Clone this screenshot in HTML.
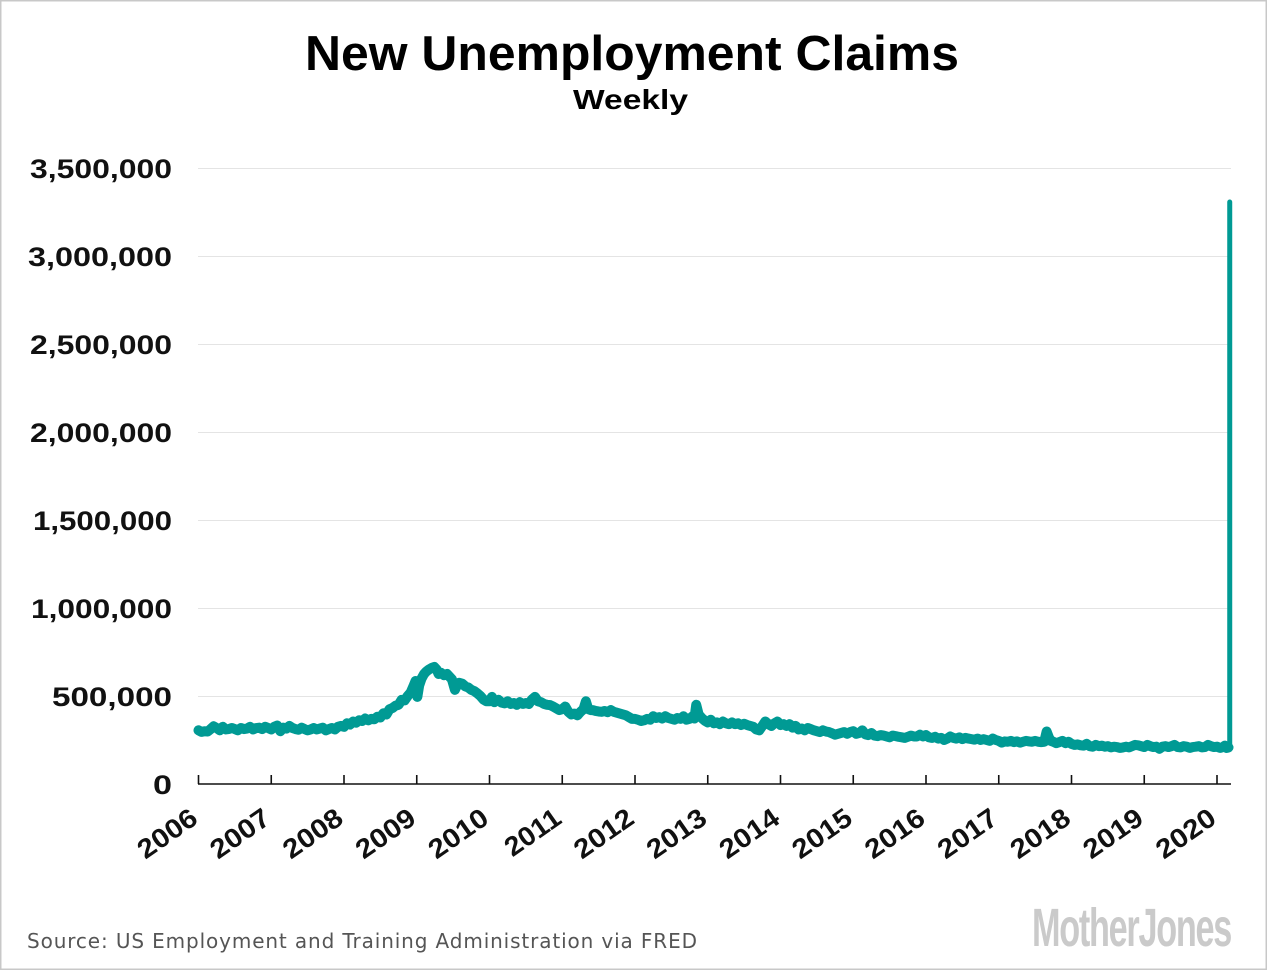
<!DOCTYPE html>
<html>
<head>
<meta charset="utf-8">
<style>
  html, body { margin: 0; padding: 0; background: #ffffff; }
  svg { display: block; }
  .yl { font-family: "Liberation Sans", "DejaVu Sans", sans-serif; font-weight: bold; font-size: 27px; fill: #111; }
  .xl { font-family: "Liberation Sans", "DejaVu Sans", sans-serif; font-weight: bold; font-size: 27px; fill: #111; }
</style>
</head>
<body>
<svg width="1268" height="971" viewBox="0 0 1268 971" xmlns="http://www.w3.org/2000/svg">
  <rect x="0" y="0" width="1268" height="971" fill="#ffffff"/>
  <rect x="0.75" y="0.75" width="1265.5" height="968.5" fill="none" stroke="#c8c8c8" stroke-width="1.5"/>

  <!-- Titles -->
  <text x="305" y="70" font-family="'Liberation Sans', sans-serif" font-weight="bold" font-size="49" fill="#000" textLength="654" lengthAdjust="spacingAndGlyphs">New Unemployment Claims</text>
  <text x="573" y="109" font-family="'Liberation Sans', sans-serif" font-weight="bold" font-size="28" fill="#000" textLength="115" lengthAdjust="spacingAndGlyphs">Weekly</text>

  <!-- Gridlines -->
  <g stroke="#e4e4e4" stroke-width="1">
    <line x1="198" y1="168.5" x2="1231" y2="168.5"/>
    <line x1="198" y1="256.5" x2="1231" y2="256.5"/>
    <line x1="198" y1="344.5" x2="1231" y2="344.5"/>
    <line x1="198" y1="432.5" x2="1231" y2="432.5"/>
    <line x1="198" y1="520.5" x2="1231" y2="520.5"/>
    <line x1="198" y1="608.5" x2="1231" y2="608.5"/>
    <line x1="198" y1="696.5" x2="1231" y2="696.5"/>
  </g>

  <!-- Y labels -->
  <g class="yl" text-anchor="end">
    <text x="172" y="178" textLength="142" lengthAdjust="spacingAndGlyphs">3,500,000</text>
    <text x="172" y="266" textLength="144" lengthAdjust="spacingAndGlyphs">3,000,000</text>
    <text x="172" y="354" textLength="142" lengthAdjust="spacingAndGlyphs">2,500,000</text>
    <text x="172" y="442" textLength="142" lengthAdjust="spacingAndGlyphs">2,000,000</text>
    <text x="172" y="530" textLength="139" lengthAdjust="spacingAndGlyphs">1,500,000</text>
    <text x="172" y="618" textLength="141" lengthAdjust="spacingAndGlyphs">1,000,000</text>
    <text x="172" y="706" textLength="120" lengthAdjust="spacingAndGlyphs">500,000</text>
    <text x="172" y="794" textLength="19" lengthAdjust="spacingAndGlyphs">0</text>
  </g>

  <!-- Data line -->
  <g transform="translate(198.5,784) scale(6.0625,-0.176)">
    <polyline fill="none" stroke="#009a94" stroke-width="10" stroke-linejoin="round" stroke-linecap="round" vector-effect="non-scaling-stroke"
      points="0,305 0.5,296 1,300 1.5,298 2,312 2.5,328 3,318 3.5,305 4,325 4.5,310 5,312 5.5,318 6,312 6.5,305 7,318 7.5,312 8,315 8.5,325 9,310 9.5,318 10,320 10.5,312 11,325 11.5,318
12,310 12.5,325 13,332 13.5,300 14,320 14.5,315 15,330 15.5,318 16,312 16.5,308 17,320 17.5,312 18,305 18.5,310 19,318 19.5,310 20,315 20.5,320 21,305 21.5,312 22,318 22.5,310 23,325 23.5,330
24,325 24.5,345 25,338 25.5,355 26,348 26.5,362 27,358 27.5,372 28,362 28.5,370 29,368 29.5,382 30,378 30.5,402 31,395 31.5,425 32,432 32.5,445 33,450 33.5,478 34,475 34.5,500 35,520 35.5,560 35.8,585 36.1,495 36.4,560 36.8,600 37.2,625 37.6,640 38,650 38.5,660 38.9,665 39.3,650 39.6,625 40,632 40.5,618 41,625 41.4,610 41.8,595 42.3,535 42.7,565 43,575 43.5,570 44,555 44.5,548 45,535 45.5,528 46,515 46.5,500 47,480 47.5,470
48,470 48.4,495 48.8,465 49,470 49.5,478 50,462 50.5,458 51,470 51.5,455 52,460 52.5,450 53,465 53.5,455 54,460 54.5,455 55,480 55.5,495 56,470 56.5,465 57,455 57.5,450 58,448 58.5,440 59,430 59.5,420
60,425 60.5,440 61,410 61.5,395 62,400 62.5,390 63,410 63.5,425 63.9,470 64.3,425 64.7,420 65,420 65.5,415 66,412 66.5,410 67,415 67.5,408 68,420 68.5,410 69,405 69.5,400 70,395 70.5,390 71,380 71.5,370
72,370 72.5,365 73,358 73.5,362 74,370 74.5,365 75,385 75.5,375 76,380 76.5,372 77,385 77.5,375 78,370 78.5,365 79,375 79.5,370 80,385 80.5,365 81,370 81.5,385 81.8,372 82.1,450 82.5,395 83,375 83.5,360
84,350 84.5,365 85,345 85.5,350 86,340 86.5,355 87,345 87.5,340 88,350 88.5,340 89,345 89.5,335 90,342 90.5,335 91,330 91.5,325 92,310 92.5,305 93,330 93.5,355 94,340 94.5,330 95,345 95.5,355
96,335 96.5,340 97,330 97.5,340 98,320 98.5,330 99,310 99.5,315 100,305 100.5,318 101,312 101.5,305 102,300 102.5,295 103,305 103.5,298 104,295 104.5,288 105,280 105.5,285 106,290 106.5,295 107,285 107.5,295
108,300 108.5,285 109,290 109.5,305 110,282 110.5,278 111,290 111.5,275 112,272 112.5,278 113,275 113.5,270 114,265 114.5,275 115,272 115.5,268 116,265 116.5,262 117,268 117.5,275 118,270 118.5,270 119,280 119.5,270
120,278 120.5,265 121,262 121.5,268 122,258 122.5,262 123,250 123.5,258 124,270 124.5,262 125,258 125.5,265 126,255 126.5,262 127,258 127.5,255 128,252 128.5,258 129,250 129.5,255 130,250 130.5,245 131,258 131.5,250
132,245 132.5,235 133,242 133.5,240 134,245 134.5,238 135,242 135.5,235 136,240 136.5,245 137,242 137.5,240 138,245 138.5,240 139,238 139.5,240 139.9,298 140.3,262 140.6,245 141,240 141.5,232 142,238 142.5,245 143,232 143.5,240
144,228 144.5,222 145,225 145.5,220 146,218 146.5,228 147,215 147.5,212 148,222 148.5,215 149,218 149.5,212 150,215 150.5,208 151,212 151.5,210 152,205 152.5,208 153,212 153.5,208 154,215 154.5,222 155,220 155.5,215
156,210 156.5,222 157,215 157.5,210 158,212 158.5,200 159,212 159.5,215 160,210 160.5,215 161,222 161.5,210 162,208 162.5,215 163,212 163.5,205 164,210 164.5,212 165,215 165.5,208 166,210 166.5,222 167,215 167.5,210
168,212 168.5,205 169,210 169.3,218 169.6,205 169.9,208"/>
    <polyline fill="none" stroke="#009a94" stroke-width="5" stroke-linejoin="round" stroke-linecap="round" vector-effect="non-scaling-stroke"
      points="169.8,208 170.1,215 170.1,3307"/>
  </g>

  <!-- X axis -->
  <g stroke="#111" stroke-width="1.6">
    <line x1="198" y1="784" x2="1231" y2="784"/>
    <line x1="198.5" y1="775" x2="198.5" y2="784"/>
    <line x1="271.25" y1="775" x2="271.25" y2="784"/>
    <line x1="344" y1="775" x2="344" y2="784"/>
    <line x1="416.75" y1="775" x2="416.75" y2="784"/>
    <line x1="489.5" y1="775" x2="489.5" y2="784"/>
    <line x1="562.25" y1="775" x2="562.25" y2="784"/>
    <line x1="635" y1="775" x2="635" y2="784"/>
    <line x1="707.75" y1="775" x2="707.75" y2="784"/>
    <line x1="780.5" y1="775" x2="780.5" y2="784"/>
    <line x1="853.25" y1="775" x2="853.25" y2="784"/>
    <line x1="926" y1="775" x2="926" y2="784"/>
    <line x1="998.75" y1="775" x2="998.75" y2="784"/>
    <line x1="1071.5" y1="775" x2="1071.5" y2="784"/>
    <line x1="1144.25" y1="775" x2="1144.25" y2="784"/>
    <line x1="1217" y1="775" x2="1217" y2="784"/>
  </g>

  <!-- X labels -->
  <g class="xl" text-anchor="end">
    <text transform="translate(199.5,822) rotate(-35)" textLength="66" lengthAdjust="spacingAndGlyphs">2006</text>
    <text transform="translate(272.25,822) rotate(-35)" textLength="66" lengthAdjust="spacingAndGlyphs">2007</text>
    <text transform="translate(345,822) rotate(-35)" textLength="66" lengthAdjust="spacingAndGlyphs">2008</text>
    <text transform="translate(417.75,822) rotate(-35)" textLength="66" lengthAdjust="spacingAndGlyphs">2009</text>
    <text transform="translate(490.5,822) rotate(-35)" textLength="66" lengthAdjust="spacingAndGlyphs">2010</text>
    <text transform="translate(563.25,822) rotate(-35)" textLength="62" lengthAdjust="spacingAndGlyphs">2011</text>
    <text transform="translate(636,822) rotate(-35)" textLength="66" lengthAdjust="spacingAndGlyphs">2012</text>
    <text transform="translate(708.75,822) rotate(-35)" textLength="66" lengthAdjust="spacingAndGlyphs">2013</text>
    <text transform="translate(781.5,822) rotate(-35)" textLength="66" lengthAdjust="spacingAndGlyphs">2014</text>
    <text transform="translate(854.25,822) rotate(-35)" textLength="66" lengthAdjust="spacingAndGlyphs">2015</text>
    <text transform="translate(927,822) rotate(-35)" textLength="66" lengthAdjust="spacingAndGlyphs">2016</text>
    <text transform="translate(999.75,822) rotate(-35)" textLength="66" lengthAdjust="spacingAndGlyphs">2017</text>
    <text transform="translate(1072.5,822) rotate(-35)" textLength="66" lengthAdjust="spacingAndGlyphs">2018</text>
    <text transform="translate(1145.25,822) rotate(-35)" textLength="66" lengthAdjust="spacingAndGlyphs">2019</text>
    <text transform="translate(1218,822) rotate(-35)" textLength="66" lengthAdjust="spacingAndGlyphs">2020</text>
  </g>

  <!-- Source -->
  <text x="27" y="948" font-family="'DejaVu Sans', 'Liberation Sans', sans-serif" font-size="20" fill="#555555" textLength="670" lengthAdjust="spacing">Source: US Employment and Training Administration via FRED</text>

  <!-- Logo -->
  <text x="1032" y="946" font-family="'Liberation Sans Narrow', 'Liberation Sans', sans-serif" font-weight="bold" font-size="54" fill="#cacaca" textLength="199" lengthAdjust="spacingAndGlyphs" letter-spacing="-2">MotherJones</text>
</svg>
</body>
</html>
